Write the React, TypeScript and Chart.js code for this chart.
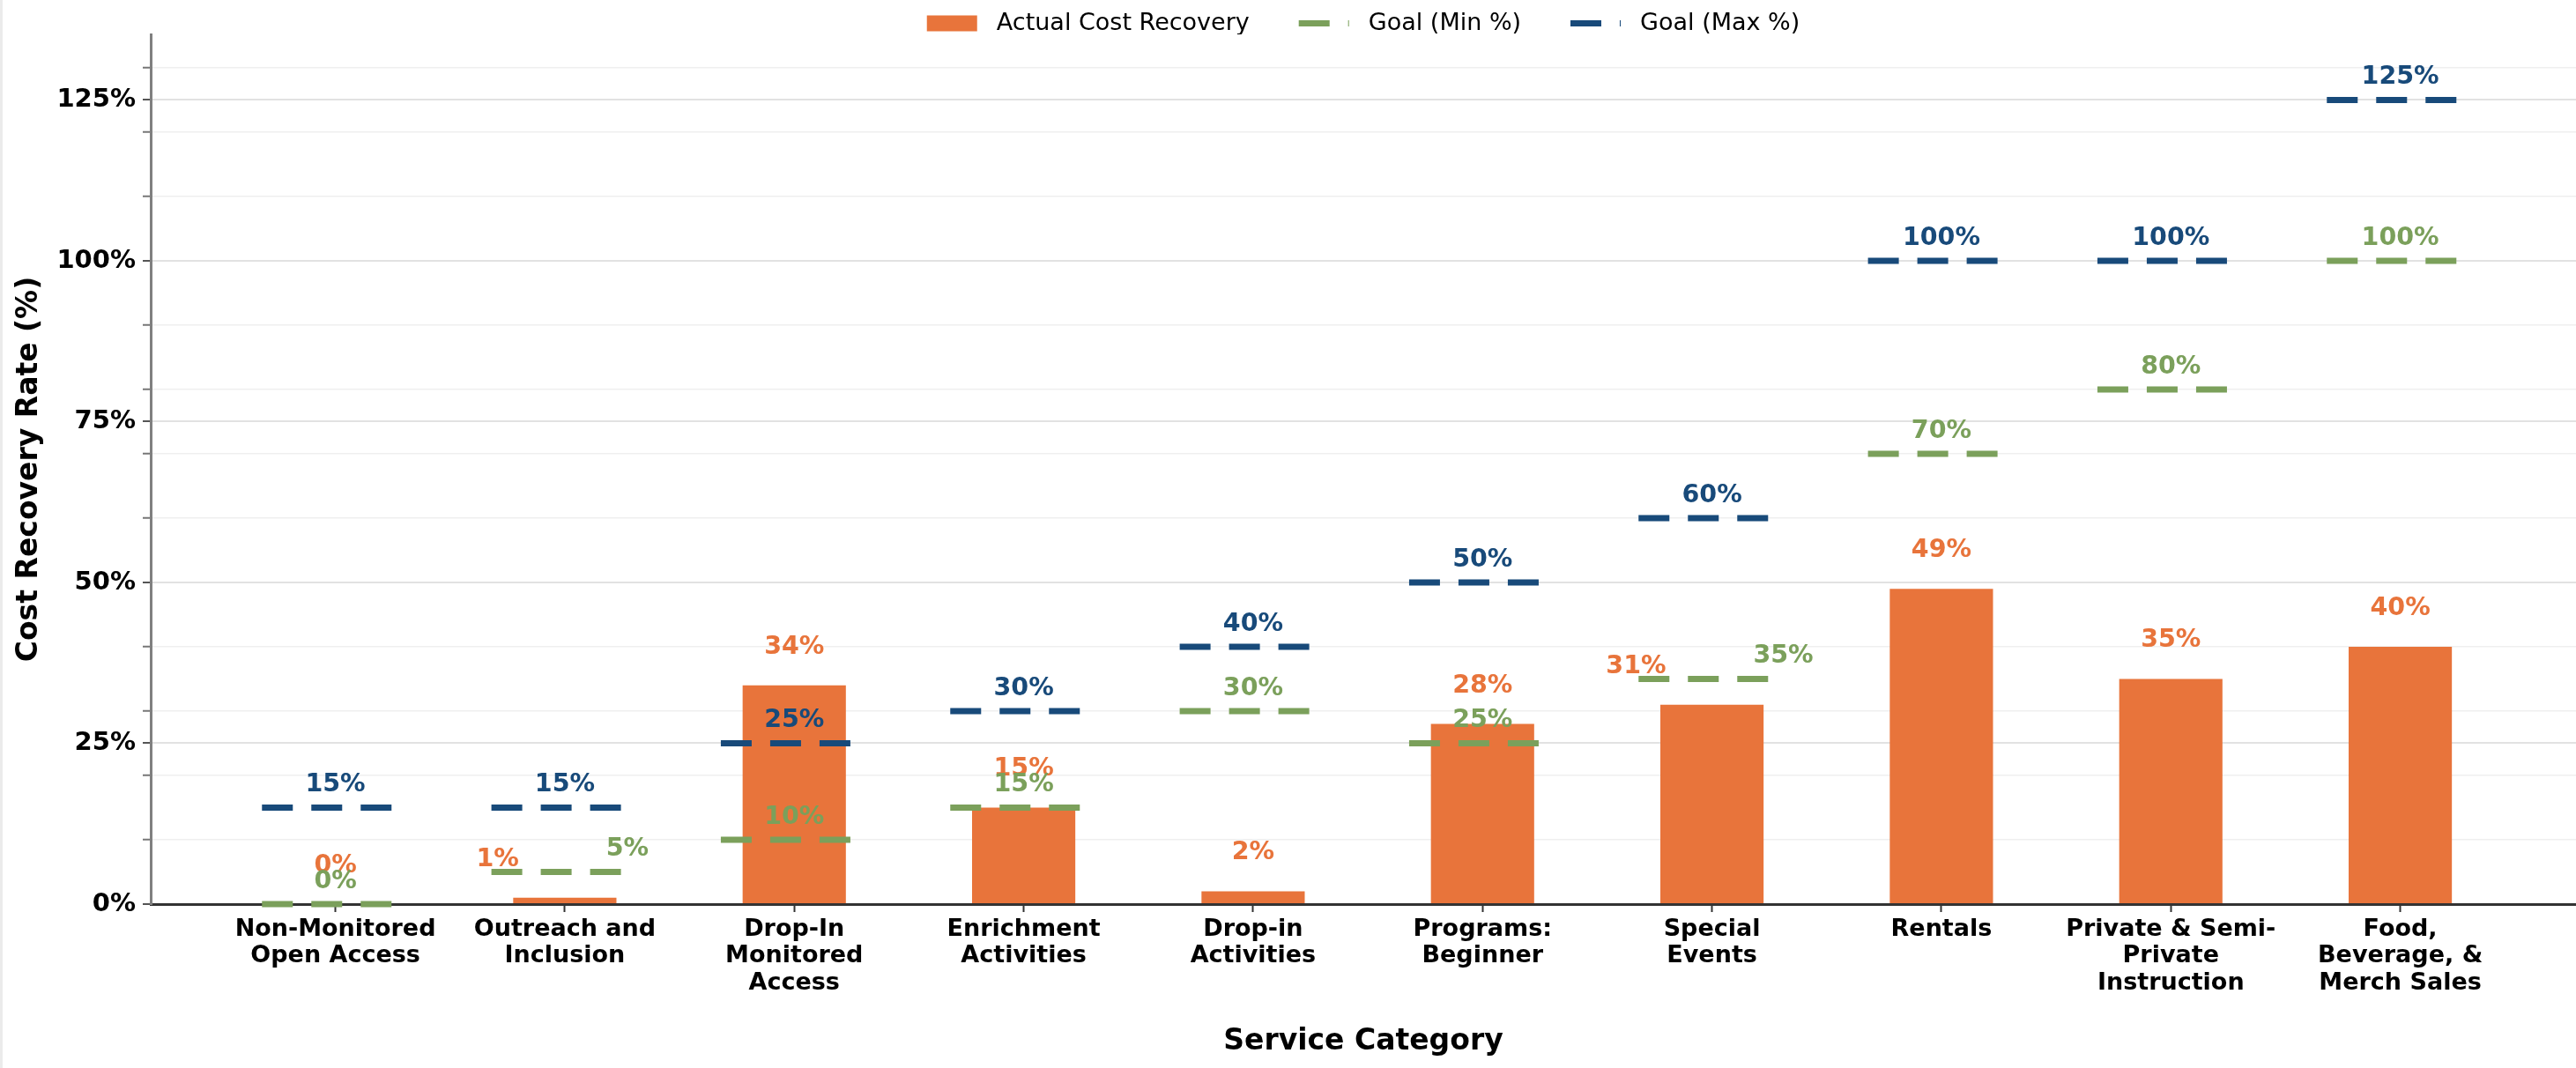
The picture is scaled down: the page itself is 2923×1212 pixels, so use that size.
import React, { useEffect, useRef } from "react";
import { Chart, registerables } from "chart.js";

Chart.register(...registerables);

const categories: string[][] = [
  ["Non-Monitored", "Open Access"],
  ["Outreach and", "Inclusion"],
  ["Drop-In", "Monitored", "Access"],
  ["Enrichment", "Activities"],
  ["Drop-in", "Activities"],
  ["Programs:", "Beginner"],
  ["Special", "Events"],
  ["Rentals"],
  ["Private & Semi-", "Private", "Instruction"],
  ["Food,", "Beverage, &", "Merch Sales"],
];
const actualRecovery: number[] = [0, 1, 34, 15, 2, 28, 31, 49, 35, 40];
const goalMin: number[] = [0, 5, 10, 15, 30, 25, 35, 70, 80, 100];
const goalMax: number[] = [15, 15, 25, 30, 40, 50, 60, 100, 100, 125];
const yTickValues: number[] = [0, 10, 20, 25, 30, 40, 50, 60, 70, 75, 80, 90, 100, 110, 120, 125, 130];

const ORANGE = "#E8743B";
const GREEN = "#7BA05B";
const BLUE = "#184A7A";
const FONT = "'DejaVu Sans'";
const HALF = 0.32;

const goalSegments = (vals: number[]) =>
  vals.flatMap((v, i) => [
    { x: i - HALF, y: v },
    { x: i + HALF, y: v },
    { x: i + 0.5, y: null },
  ]);

const valueLabels = {
  id: "valueLabels",
  afterDatasetsDraw(chart: any) {
    const { ctx, scales } = chart;
    const x = scales.x;
    const y = scales.y;
    ctx.save();
    ctx.font = `bold 28.5px ${FONT}`;
    ctx.textBaseline = "alphabetic";
    categories.forEach((_, i) => {
      const cx = x.getPixelForValue(i);
      const shift = goalMin[i] > actualRecovery[i] && goalMin[i] - actualRecovery[i] <= 5;
      // actual
      ctx.fillStyle = ORANGE;
      if (shift) {
        ctx.textAlign = "right";
        ctx.fillText(`${actualRecovery[i]}%`, x.getPixelForValue(i - 0.2), y.getPixelForValue(actualRecovery[i]) - 36);
      } else {
        ctx.textAlign = "center";
        ctx.fillText(`${actualRecovery[i]}%`, cx, y.getPixelForValue(actualRecovery[i]) - 36);
      }
      // min goal
      ctx.fillStyle = GREEN;
      if (shift) {
        ctx.textAlign = "left";
        ctx.fillText(`${goalMin[i]}%`, x.getPixelForValue(i + 0.18), y.getPixelForValue(goalMin[i]) - 18);
      } else {
        ctx.textAlign = "center";
        ctx.fillText(`${goalMin[i]}%`, cx, y.getPixelForValue(goalMin[i]) - 18);
      }
      // max goal
      ctx.fillStyle = BLUE;
      ctx.textAlign = "center";
      ctx.fillText(`${goalMax[i]}%`, cx, y.getPixelForValue(goalMax[i]) - 18);
    });
    ctx.restore();
  },
};

export default function App() {
  const ref = useRef<HTMLCanvasElement | null>(null);

  useEffect(() => {
    if (!ref.current) return;
    Chart.defaults.font.family = FONT;
    const chart = new Chart(ref.current, {
      type: "bar",
      data: {
        datasets: [
          {
            type: "bar",
            label: "Actual Cost Recovery",
            data: actualRecovery.map((v, i) => ({ x: i, y: v })),
            backgroundColor: ORANGE,
            borderWidth: 0,
            barPercentage: 0.45,
            categoryPercentage: 1.0,
            order: 3,
          } as any,
          {
            type: "line",
            label: "Goal (Min %)",
            data: goalSegments(goalMin),
            borderColor: GREEN,
            borderWidth: 7,
            borderDash: [35, 21],
            borderCapStyle: "butt",
            pointRadius: 0,
            spanGaps: false,
            clip: false,
            order: 2,
          } as any,
          {
            type: "line",
            label: "Goal (Max %)",
            data: goalSegments(goalMax),
            borderColor: BLUE,
            borderWidth: 7,
            borderDash: [35, 21],
            borderCapStyle: "butt",
            pointRadius: 0,
            spanGaps: false,
            clip: false,
            order: 1,
          } as any,
        ],
      },
      options: {
        responsive: false,
        animation: false,
        devicePixelRatio: 1,
        layout: { padding: 0 },
        plugins: {
          tooltip: { enabled: false },
          legend: {
            position: "top",
            fullSize: false,
            maxHeight: 39,
            labels: {
              usePointStyle: true,
              pointStyleWidth: 57,
              boxHeight: 18,
              padding: 13,
              color: "#1a1a1a",
              font: { size: 27, family: FONT },
              generateLabels: () => [
                { text: " Actual Cost Recovery     ", fillStyle: ORANGE, strokeStyle: ORANGE, lineWidth: 0, pointStyle: "rect", hidden: false, datasetIndex: 0 },
                { text: " Goal (Min %)     ", fillStyle: GREEN, strokeStyle: GREEN, lineWidth: 7, lineDash: [35, 21], lineCap: "butt", pointStyle: "line", hidden: false, datasetIndex: 1 },
                { text: " Goal (Max %)", fillStyle: BLUE, strokeStyle: BLUE, lineWidth: 7, lineDash: [35, 21], lineCap: "butt", pointStyle: "line", hidden: false, datasetIndex: 2 },
              ] as any,
            },
          },
        },
        scales: {
          x: {
            type: "linear",
            offset: false,
            min: -0.805,
            max: 9.766,
            afterFit: (s: any) => {
              s.height = 186;
            },
            afterBuildTicks: (s: any) => {
              s.ticks = categories.map((_, i) => ({ value: i }));
            },
            grid: {
              offset: false,
              drawOnChartArea: false,
              drawTicks: true,
              tickLength: 9,
              tickColor: "#333333",
              tickWidth: 2,
            },
            border: { display: true, color: "#333333", width: 3 },
            ticks: {
              autoSkip: false,
              maxRotation: 0,
              minRotation: 0,
              padding: 5,
              color: "#000000",
              font: { size: 27, weight: "bold", family: FONT, lineHeight: 1.12 },
              callback: (v: any) => categories[Math.round(Number(v))] ?? "",
            },
            title: {
              display: true,
              text: "Service Category",
              color: "#000000",
              font: { size: 33, weight: "bold", family: FONT },
              padding: { top: 0, bottom: 10 },
            },
          },
          y: {
            type: "linear",
            min: 0,
            max: 135.2,
            afterFit: (s: any) => {
              s.width = 168;
            },
            afterBuildTicks: (s: any) => {
              s.ticks = yTickValues.map((v) => ({ value: v }));
            },
            grid: {
              color: (c: any) => (c.tick && c.tick.value % 25 === 0 ? "#e2e2e2" : "#efefef"),
              lineWidth: (c: any) => (c.tick && c.tick.value % 25 === 0 ? 2 : 1.5),
              tickColor: (c: any) => (c.tick && c.tick.value % 25 === 0 ? "#555555" : "#777777"),
              tickWidth: 2,
              tickLength: 9,
            },
            border: { display: true, color: "#808080", width: 3 },
            ticks: {
              padding: 8,
              color: "#000000",
              font: { size: 29, weight: "bold", family: FONT },
              callback: (v: any) => (Number(v) % 25 === 0 ? `${v}%` : ""),
            },
            title: {
              display: true,
              text: "Cost Recovery Rate (%)",
              color: "#000000",
              font: { size: 33, weight: "bold", family: FONT },
              padding: { top: 11, bottom: 0 },
            },
          },
        },
      },
      plugins: [valueLabels],
    } as any);
    return () => chart.destroy();
  }, []);

  return (
    <div
      style={{
        position: "fixed",
        left: 0,
        top: 0,
        width: 2923,
        height: 1212,
        background: "#ffffff",
        borderLeft: "3px solid #ebebeb",
        boxSizing: "border-box",
      }}
    >
      <canvas ref={ref} width={2920} height={1212} style={{ display: "block", width: 2920, height: 1212 }} />
    </div>
  );
}
